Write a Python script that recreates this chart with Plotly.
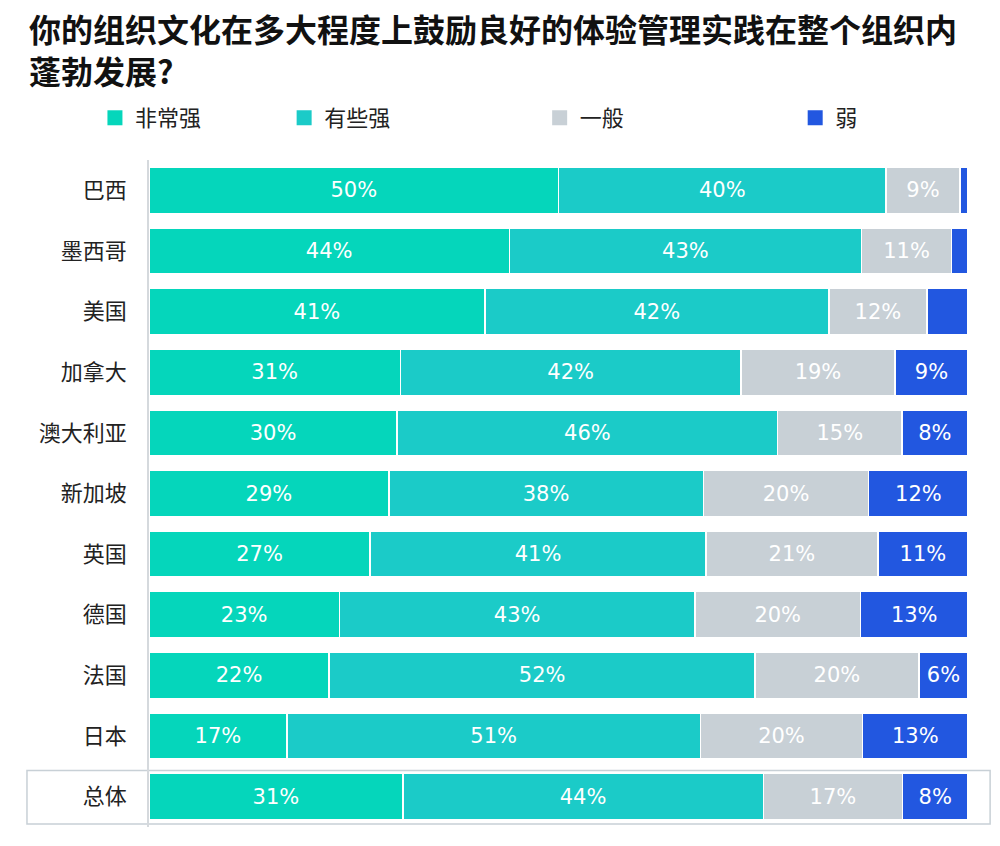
import plotly.graph_objects as go

categories = ["巴西", "墨西哥", "美国", "加拿大", "澳大利亚", "新加坡", "英国", "德国", "法国", "日本", "总体"]
series_names = ["非常强", "有些强", "一般", "弱"]
very_strong = [50, 44, 41, 31, 30, 29, 27, 23, 22, 17, 31]
somewhat_strong = [40, 43, 42, 42, 46, 38, 41, 43, 52, 51, 44]
average = [9, 11, 12, 19, 15, 20, 21, 20, 20, 20, 17]
weak = [1, 2, 5, 9, 8, 12, 11, 13, 6, 13, 8]
weak_labelled = [False, False, False, True, True, True, True, True, True, True, True]

series_values = [very_strong, somewhat_strong, average, weak]
colors = ["#05D6BB", "#1BCBC8", "#C8D0D6", "#2257E0"]
legend_ids = ["legend2", "legend3", "legend4", "legend5"]
legend_x = [-0.066, 0.165, 0.477, 0.789]

row_totals = [sum(s[i] for s in series_values) for i in range(len(categories))]

fig = go.Figure()
for k, (name, vals) in enumerate(zip(series_names, series_values)):
    xs = [v / t * 100 for v, t in zip(vals, row_totals)]
    if k == 3:
        texts = [f"{v}%" if show else "" for v, show in zip(vals, weak_labelled)]
    else:
        texts = [f"{v}%" for v in vals]
    fig.add_trace(go.Bar(
        y=categories, x=xs, name=name, orientation="h",
        marker=dict(color=colors[k], line=dict(color="white", width=1.5)),
        text=texts, textposition="inside", insidetextanchor="middle",
        textfont=dict(family="DejaVu Sans", size=21, color="white"),
        showlegend=False, hoverinfo="skip",
    ))
    # legend entry (no data, only the key)
    fig.add_trace(go.Scatter(
        x=[None], y=[None], mode="markers", name=name,
        marker=dict(symbol="square", size=15, color=colors[k]),
        legend=legend_ids[k], showlegend=True, hoverinfo="skip",
    ))

legend_common = dict(
    orientation="h", yanchor="middle", y=1.063, xanchor="left",
    font=dict(family="Noto Sans CJK SC", size=22, color="#222"),
    bgcolor="rgba(0,0,0,0)", itemsizing="trace",
)

fig.update_layout(
    width=1000, height=846,
    barmode="stack", bargap=0.24,
    paper_bgcolor="white", plot_bgcolor="white",
    margin=dict(l=149, r=32, t=160, b=19),
    showlegend=True,
    legend2=dict(x=legend_x[0], **legend_common),
    legend3=dict(x=legend_x[1], **legend_common),
    legend4=dict(x=legend_x[2], **legend_common),
    legend5=dict(x=legend_x[3], **legend_common),
    xaxis=dict(range=[0, 100], showgrid=False, showticklabels=False, zeroline=False, fixedrange=True),
    yaxis=dict(
        autorange="reversed", showgrid=False, showline=True, linecolor="#D5D9DD", linewidth=1.5,
        ticks="outside", ticklen=16, tickcolor="rgba(0,0,0,0)",
        tickfont=dict(family="Noto Sans CJK SC", size=22, color="#222"),
    ),
    annotations=[dict(
        text="<b>你的组织文化在多大程度上鼓励良好的体验管理实践在整个组织内<br>蓬勃发展?</b>",
        xref="paper", yref="paper", x=-0.149, y=1.236, xanchor="left", yanchor="top",
        align="left", showarrow=False,
        font=dict(family="Noto Sans CJK SC", size=32, color="#111"),
    )],
    shapes=[dict(
        type="rect", xref="paper", yref="y",
        x0=-0.149, x1=1.027, y0=9.57, y1=10.45,
        line=dict(color="#C8D0D6", width=1.5), fillcolor="rgba(0,0,0,0)", layer="below",
    )],
)

fig.write_html("out.html", config={"displayModeBar": False},
               post_script="document.body.style.margin='0';")
